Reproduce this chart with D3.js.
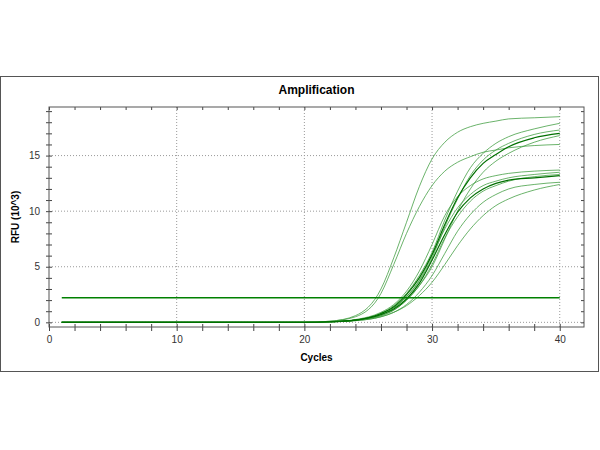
<!DOCTYPE html>
<html><head><meta charset="utf-8">
<script src="https://cdn.jsdelivr.net/npm/d3@7"></script>
<style>body{margin:0;background:#fff}text{font-family:Arial,"Liberation Sans",sans-serif}</style>
</head><body><div id="vis"></div>
<script>
var width = 600, height = 450;

var cycles = [1, 20, 22, 24, 26, 27, 28, 29, 30, 31, 32, 33, 34, 35, 36, 38, 40];

// RFU (10^3) per well
var wellA = [0, 0, 0.1, 0.6, 3.0, 5.8, 9.0, 12.2, 14.7, 16.2, 17.1, 17.6, 17.9, 18.1, 18.3, 18.4, 18.5];
var wellB = [0, 0, 0.1, 0.5, 2.6, 5.2, 8.0, 10.4, 12.3, 13.6, 14.4, 14.9, 15.3, 15.5, 15.7, 15.9, 16.0];
var wellC = [0, 0, 0.05, 0.2, 0.8, 1.5, 2.6, 4.2, 6.3, 9.2, 11.8, 13.9, 15.2, 16.1, 16.7, 17.4, 17.9];
var wellD = [0, 0, 0.05, 0.2, 0.7, 1.3, 2.3, 3.7, 5.8, 8.6, 11.1, 13.2, 14.6, 15.5, 16.1, 16.9, 17.3];
var wellE = [0, 0, 0.05, 0.2, 0.8, 1.4, 2.5, 4.0, 6.1, 8.8, 11.2, 13.0, 14.3, 15.1, 15.8, 16.6, 17.0];
var wellF = [0, 0, 0.05, 0.2, 0.6, 1.1, 2.0, 3.3, 5.0, 7.5, 10.0, 12.0, 13.5, 14.5, 15.2, 16.2, 16.8];
var wellG = [0, 0, 0.05, 0.25, 0.9, 1.6, 2.8, 4.6, 7.0, 9.6, 11.3, 12.3, 12.9, 13.2, 13.4, 13.6, 13.7];
var wellH = [0, 0, 0.05, 0.2, 0.7, 1.3, 2.3, 3.8, 6.0, 8.4, 10.3, 11.5, 12.3, 12.7, 13.0, 13.3, 13.5];
var wellI = [0, 0, 0.05, 0.2, 0.6, 1.1, 2.0, 3.3, 5.2, 7.6, 9.5, 10.9, 11.8, 12.3, 12.7, 13.1, 13.3];
var wellJ = [0, 0, 0.05, 0.2, 0.7, 1.2, 2.1, 3.5, 5.6, 7.9, 9.9, 11.2, 12.0, 12.5, 12.8, 13.0, 13.2];
var wellK = [0, 0, 0.05, 0.15, 0.5, 0.9, 1.6, 2.7, 4.2, 6.2, 8.2, 9.7, 10.8, 11.5, 12.0, 12.4, 12.6];
var wellL = [0, 0, 0.05, 0.15, 0.5, 0.9, 1.5, 2.4, 3.6, 5.2, 6.9, 8.4, 9.6, 10.5, 11.1, 11.9, 12.4];

var lightWells = [wellA, wellB, wellC, wellD, wellF, wellG, wellH, wellI, wellK, wellL];
var darkWells = [wellE, wellJ];

var threshold = 2.2;
var xTicks = [0, 10, 20, 30, 40];
var yTicks = [0, 5, 10, 15];

var pLeft = 49, pRight = 584, pTop = 107, pBottom = 327;

var x = d3.scaleLinear().domain([0, 41.9]).range([pLeft, pRight]);
var y = d3.scaleLinear().domain([-0.42, 19.37]).range([pBottom, pTop]);

var svg = d3.select('#vis').append('svg')
  .attr('width', width)
  .attr('height', height);

// outer frame
svg.append('rect')
  .attr('x', 0.5).attr('y', 76.5)
  .attr('width', 598).attr('height', 295)
  .attr('fill', 'none').attr('stroke', '#555');

svg.append('text')
  .attr('x', (pLeft + pRight) / 2).attr('y', 94)
  .attr('text-anchor', 'middle')
  .style('font-size', '12px').style('font-weight', 'bold')
  .text('Amplification');

// grid
svg.selectAll('line.gx')
  .data(xTicks.slice(1))
  .enter().append('line')
    .attr('x1', d => x(d)).attr('x2', d => x(d))
    .attr('y1', pTop).attr('y2', pBottom)
    .attr('stroke', '#999').attr('stroke-dasharray', '1,2');

svg.selectAll('line.gy')
  .data(yTicks)
  .enter().append('line')
    .attr('x1', pLeft).attr('x2', pRight)
    .attr('y1', d => y(d)).attr('y2', d => y(d))
    .attr('stroke', '#999').attr('stroke-dasharray', '1,2');

// axes with minor ticks on all sides
var xMinor = d3.range(0, 42, 2), yMinor = d3.range(0, 20, 1);

svg.append('g').attr('transform', 'translate(0,' + pBottom + ')')
  .call(d3.axisBottom(x).tickValues(xMinor).tickSize(4).tickFormat(d => d % 10 === 0 ? d : ''))
  .call(g => g.select('.domain').remove())
  .call(g => g.selectAll('text').attr('dy', '0.9em').style('font-size', '10px'));
svg.append('g').attr('transform', 'translate(0,' + pBottom + ')')
  .call(d3.axisTop(x).tickValues(xMinor).tickSize(3).tickFormat(''))
  .call(g => g.select('.domain').remove());
svg.append('g').attr('transform', 'translate(0,' + pTop + ')')
  .call(d3.axisBottom(x).tickValues(xMinor).tickSize(3).tickFormat(''))
  .call(g => g.select('.domain').remove());

svg.append('g').attr('transform', 'translate(' + pLeft + ',0)')
  .call(d3.axisLeft(y).tickValues(yMinor).tickSize(3).tickFormat(d => d % 5 === 0 ? d : ''))
  .call(g => g.select('.domain').remove())
  .call(g => g.selectAll('text').attr('dx', '-0.3em').style('font-size', '10px'));
svg.append('g').attr('transform', 'translate(' + pLeft + ',0)')
  .call(d3.axisRight(y).tickValues(yMinor).tickSize(3).tickFormat(''))
  .call(g => g.select('.domain').remove());
svg.append('g').attr('transform', 'translate(' + pRight + ',0)')
  .call(d3.axisLeft(y).tickValues(yMinor).tickSize(3).tickFormat(''))
  .call(g => g.select('.domain').remove());

svg.selectAll('.tick line').attr('stroke', '#444');
svg.selectAll('.tick text').attr('fill', '#333');

svg.append('rect')
  .attr('x', pLeft).attr('y', pTop)
  .attr('width', pRight - pLeft).attr('height', pBottom - pTop)
  .attr('fill', 'none').attr('stroke', '#555');

svg.append('text')
  .attr('x', (pLeft + pRight) / 2).attr('y', 361)
  .attr('text-anchor', 'middle')
  .style('font-size', '10px').style('font-weight', 'bold')
  .text('Cycles');

svg.append('text')
  .attr('transform', 'translate(19,' + (pTop + pBottom) / 2 + ')rotate(-90)')
  .attr('text-anchor', 'middle')
  .style('font-size', '10px').style('font-weight', 'bold')
  .text('RFU (10^3)');

// curves
var line = d3.line()
  .x((d, i) => x(cycles[i]))
  .y(d => y(d))
  .curve(d3.curveMonotoneX);

svg.selectAll('path.light')
  .data(lightWells)
  .enter().append('path')
    .attr('d', line)
    .attr('fill', 'none')
    .attr('stroke', '#3a9a3a').attr('stroke-opacity', 0.75)
    .attr('stroke-width', 1);

svg.selectAll('path.dark')
  .data(darkWells)
  .enter().append('path')
    .attr('d', line)
    .attr('fill', 'none')
    .attr('stroke', '#007000')
    .attr('stroke-width', 1.2);

svg.append('line')
  .attr('x1', x(1)).attr('x2', x(40))
  .attr('y1', y(threshold)).attr('y2', y(threshold))
  .attr('stroke', '#008000').attr('stroke-width', 1.5);
</script>
</body></html>
